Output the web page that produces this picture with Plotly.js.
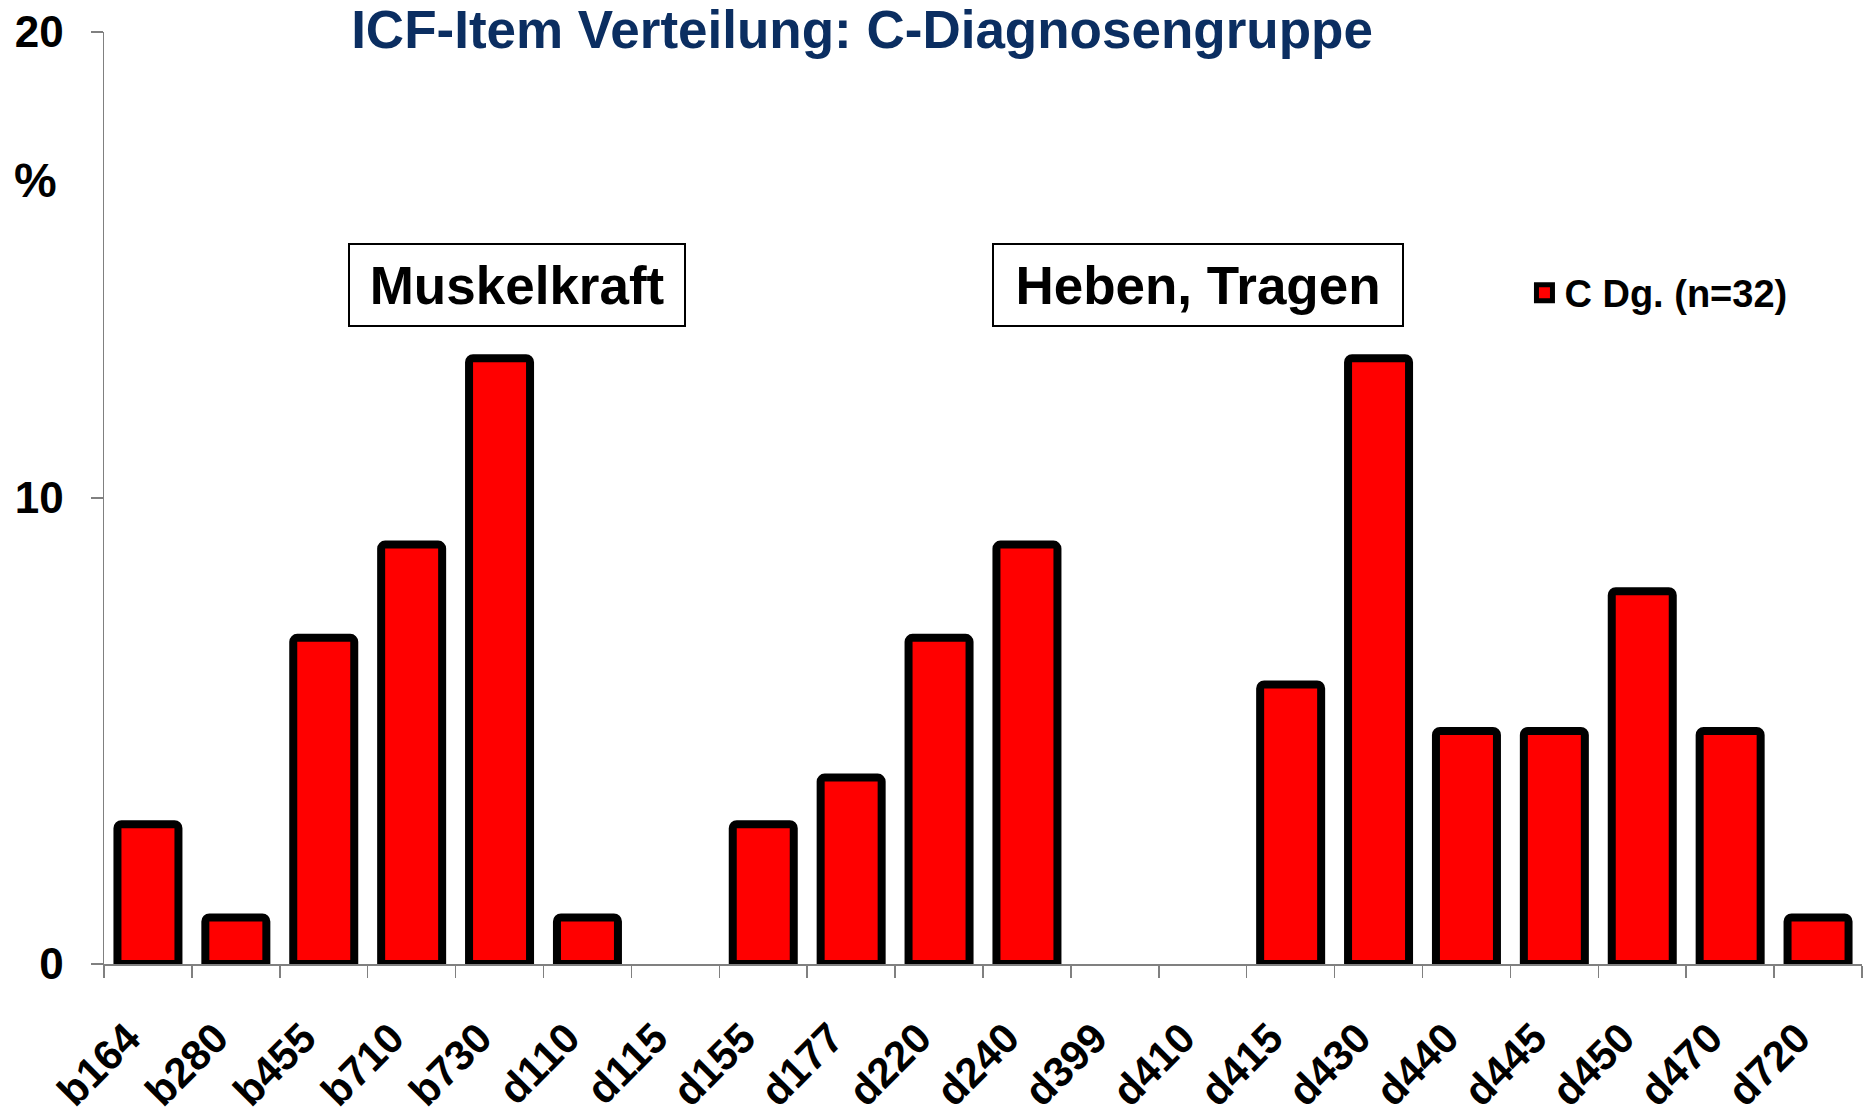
<!DOCTYPE html>
<html>
<head>
<meta charset="utf-8">
<script src="https://cdn.plot.ly/plotly-3.0.1.min.js"></script>
<style>html,body{margin:0;padding:0;background:#fff;}#chart{width:1874px;height:1117px;}</style>
</head>
<body>
<div id="chart"></div>
<script>
const categories = ["b164","b280","b455","b710","b730","d110","d115","d155","d177","d220","d240","d399","d410","d415","d430","d440","d445","d450","d470","d720"];
const percentValues = [3,1,7,9,13,1,0,3,4,7,9,0,0,6,13,5,5,8,5,1];
const seriesName = "C Dg. (n=32)";
const yTickValues = [0,10,20];
const chartTitle = "ICF-Item Verteilung: C-Diagnosengruppe";
const groupLabels = ["Muskelkraft","Heben, Tragen"];

const FONT = "'Liberation Sans', Arial, Helvetica, sans-serif";

// zero-height bars are not drawn in the reference
const barTrace = {
  type: "bar",
  x: categories,
  y: percentValues.map(v => (v === 0 ? null : v)),
  name: seriesName,
  marker: {color: "#ff0000", line: {color: "#000000", width: 8}, cornerradius: 4},
  showlegend: false,
  hoverinfo: "x+y"
};

// legend entry for the series (larger key like the reference)
const legendTrace = {
  type: "scatter",
  mode: "markers",
  x: [null],
  y: [null],
  name: seriesName,
  marker: {symbol: "square", size: 16, color: "#ff0000", line: {color: "#000000", width: 5}},
  showlegend: true,
  hoverinfo: "skip"
};

const layout = {
  width: 1874,
  height: 1117,
  paper_bgcolor: "#ffffff",
  plot_bgcolor: "#ffffff",
  margin: {l: 104, r: 12, t: 32, b: 153, pad: 0},
  bargap: 0.306,
  showlegend: true,
  font: {family: FONT, color: "#000000"},
  title: {
    text: chartTitle,
    font: {family: FONT, size: 53, color: "#0b2e61", weight: "bold"},
    x: 0.46, xref: "container", xanchor: "center",
    y: 0.974, yref: "container", yanchor: "middle"
  },
  xaxis: {
    type: "category",
    showline: true, linecolor: "#808080", linewidth: 1.5,
    ticks: "outside", tickson: "boundaries", ticklen: 12, tickcolor: "#808080", tickwidth: 1.5,
    tickangle: -45,
    tickfont: {family: FONT, size: 42, color: "#000000", weight: "bold"},
    ticklabelstandoff: 31,
    ticklabelshift: -20,
    showgrid: false, zeroline: false
  },
  yaxis: {
    range: [0, 20],
    tickvals: yTickValues,
    ticktext: yTickValues.map(String),
    showline: true, linecolor: "#808080", linewidth: 1.5,
    ticks: "outside", ticklen: 12, tickcolor: "#808080", tickwidth: 1.5,
    tickfont: {family: FONT, size: 44, color: "#000000", weight: "bold"},
    ticklabelstandoff: 18,
    showgrid: false, zeroline: false
  },
  legend: {
    x: 0.808, xanchor: "left", y: 0.72, yanchor: "middle",
    font: {family: FONT, size: 38, color: "#000000", weight: "bold"},
    bgcolor: "rgba(0,0,0,0)", borderwidth: 0
  },
  annotations: [
    {text: "%", xref: "paper", yref: "paper", x: -0.039, y: 0.841, xanchor: "center", yanchor: "middle", showarrow: false,
     font: {family: FONT, size: 48, color: "#000000", weight: "bold"}},
    {text: groupLabels[0], xref: "paper", yref: "paper", x: 0.235, y: 0.7285, xanchor: "center", yanchor: "middle", showarrow: false,
     width: 334, height: 80, bordercolor: "#000000", borderwidth: 2, borderpad: 0, bgcolor: "#ffffff",
     font: {family: FONT, size: 53, color: "#000000", weight: "bold"}},
    {text: groupLabels[1], xref: "paper", yref: "paper", x: 0.6223, y: 0.7285, xanchor: "center", yanchor: "middle", showarrow: false,
     width: 408, height: 80, bordercolor: "#000000", borderwidth: 2, borderpad: 0, bgcolor: "#ffffff",
     font: {family: FONT, size: 53, color: "#000000", weight: "bold"}}
  ]
};

Plotly.newPlot("chart", [barTrace, legendTrace], layout, {displayModeBar: false, staticPlot: true});
</script>
</body>
</html>
